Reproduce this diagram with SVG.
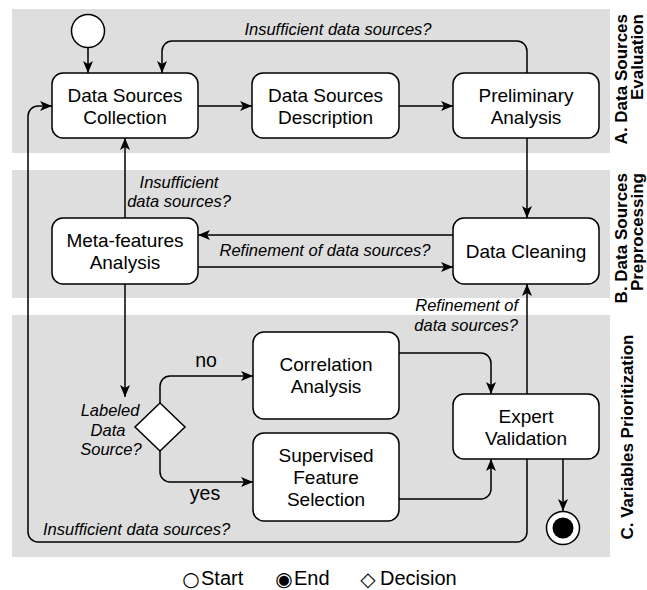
<svg xmlns="http://www.w3.org/2000/svg" width="647" height="590" viewBox="0 0 647 590">
  <style>
    .lane { fill: #dedede; stroke: none; }
    .lane-label { font-family: "Liberation Sans", Arial, sans-serif; font-size: 17px; font-weight: bold; fill: #000; }
    .box { fill: #fff; stroke: #000; stroke-width: 1.5; }
    .node-text { font-family: "Liberation Sans", Arial, sans-serif; font-size: 19px; fill: #000; text-anchor: middle; }
    .edge { fill: none; stroke: #000; stroke-width: 1.5; marker-end: url(#arrow); }
    .edge-label { font-family: "Liberation Sans", Arial, sans-serif; font-size: 16.5px; font-style: italic; fill: #000; }
    .branch-label { font-family: "Liberation Sans", Arial, sans-serif; font-size: 19.5px; fill: #000; text-anchor: middle; }
    .legend { font-family: "Liberation Sans", Arial, sans-serif; font-size: 20px; fill: #000; }
    .sym { font-family: "DejaVu Sans", sans-serif; font-size: 20px; fill: #000; text-anchor: middle; }
  </style>
  <defs>
    <marker id="arrow" markerUnits="userSpaceOnUse" viewBox="0 0 12 10" refX="12" refY="5" markerWidth="12" markerHeight="10" orient="auto">
      <path d="M0,0 L12,5 L0,10 L3,5 Z" fill="#000"/>
    </marker>
  </defs>

  <!-- swimlanes -->
  <g id="lanes">
    <rect class="lane" x="12" y="9" width="598" height="144"/>
    <rect class="lane" x="12" y="170" width="598" height="128"/>
    <rect class="lane" x="12" y="315" width="598" height="242"/>
    <text class="lane-label" text-anchor="end" transform="translate(627,14) rotate(-90)">A. Data Sources</text>
    <text class="lane-label" text-anchor="end" transform="translate(643,14) rotate(-90)">Evaluation</text>
    <text class="lane-label" text-anchor="end" transform="translate(627,173) rotate(-90)">B. Data Sources</text>
    <text class="lane-label" text-anchor="end" transform="translate(643,173) rotate(-90)">Preprocessing</text>
    <text class="lane-label" text-anchor="middle" transform="translate(633,437) rotate(-90)">C. Variables Prioritization</text>
  </g>

  <!-- connectors -->
  <g id="connectors">
    <path class="edge" d="M88,48 V73"/>
    <path class="edge" d="M527,73 V51 A10,10 0 0 0 517,41 H172 A10,10 0 0 0 162,51 V73"/>
    <path class="edge" d="M198,106 H252"/>
    <path class="edge" d="M399,106 H453"/>
    <path class="edge" d="M527,138 V218"/>
    <path class="edge" d="M125,218 V138"/>
    <path class="edge" d="M453,235 H198"/>
    <path class="edge" d="M198,267 H453"/>
    <path class="edge" d="M125,284 V397"/>
    <path class="edge" d="M160,403 V386 A10,10 0 0 1 170,376 H253"/>
    <path class="edge" d="M160,451 V472 A10,10 0 0 0 170,482 H253"/>
    <path class="edge" d="M399,353 H481 A10,10 0 0 1 491,363 V394"/>
    <path class="edge" d="M399,499 H481 A10,10 0 0 0 491,489 V459"/>
    <path class="edge" d="M527,394 V284"/>
    <path class="edge" d="M563,459 V511"/>
    <path class="edge" d="M527,459 V532 A10,10 0 0 1 517,542 H38 A10,10 0 0 1 28,532 V116 A10,10 0 0 1 38,106 H52"/>

    <text class="edge-label" x="338" y="35" text-anchor="middle">Insufficient data sources?</text>
    <text class="edge-label" x="179" y="188" text-anchor="middle">Insufficient</text>
    <text class="edge-label" x="179" y="207" text-anchor="middle">data sources?</text>
    <text class="edge-label" x="325" y="256" text-anchor="middle">Refinement of data sources?</text>
    <text class="edge-label" x="518" y="311" text-anchor="end">Refinement of</text>
    <text class="edge-label" x="518" y="331" text-anchor="end">data sources?</text>
    <text class="edge-label" x="43" y="535">Insufficient data sources?</text>
    <text class="branch-label" x="206" y="367">no</text>
    <text class="branch-label" x="205" y="500">yes</text>
  </g>

  <!-- nodes -->
  <g id="start">
    <circle cx="88" cy="31" r="16.5" fill="#fff" stroke="#000" stroke-width="1.5"/>
  </g>
  <g id="data-sources-collection">
    <rect class="box" x="52" y="73" width="146" height="65" rx="11"/>
    <text class="node-text" x="125" y="102">Data Sources</text>
    <text class="node-text" x="125" y="124">Collection</text>
  </g>
  <g id="data-sources-description">
    <rect class="box" x="252" y="73" width="147" height="65" rx="11"/>
    <text class="node-text" x="325.5" y="102">Data Sources</text>
    <text class="node-text" x="325.5" y="124">Description</text>
  </g>
  <g id="preliminary-analysis">
    <rect class="box" x="453" y="73" width="146" height="65" rx="11"/>
    <text class="node-text" x="526" y="102">Preliminary</text>
    <text class="node-text" x="526" y="124">Analysis</text>
  </g>
  <g id="meta-features-analysis">
    <rect class="box" x="52" y="218" width="146" height="66" rx="11"/>
    <text class="node-text" x="125" y="247">Meta-features</text>
    <text class="node-text" x="125" y="269">Analysis</text>
  </g>
  <g id="data-cleaning">
    <rect class="box" x="453" y="218" width="146" height="66" rx="11"/>
    <text class="node-text" x="526" y="258">Data Cleaning</text>
  </g>
  <g id="labeled-decision">
    <path d="M160,403 L185,427 L160,451 L135,427 Z" fill="#fff" stroke="#000" stroke-width="1.5"/>
    <text class="edge-label" x="110" y="416" text-anchor="middle">Labeled</text>
    <text class="edge-label" x="108" y="436" text-anchor="middle">Data</text>
    <text class="edge-label" x="111" y="455" text-anchor="middle">Source?</text>
  </g>
  <g id="correlation-analysis">
    <rect class="box" x="253" y="332" width="146" height="87" rx="11"/>
    <text class="node-text" x="326" y="371">Correlation</text>
    <text class="node-text" x="326" y="393">Analysis</text>
  </g>
  <g id="supervised-feature-selection">
    <rect class="box" x="253" y="433" width="146" height="88" rx="11"/>
    <text class="node-text" x="326" y="462">Supervised</text>
    <text class="node-text" x="326" y="484">Feature</text>
    <text class="node-text" x="326" y="506">Selection</text>
  </g>
  <g id="expert-validation">
    <rect class="box" x="453" y="394" width="146" height="65" rx="11"/>
    <text class="node-text" x="526" y="423">Expert</text>
    <text class="node-text" x="526" y="445">Validation</text>
  </g>
  <g id="end">
    <circle cx="563" cy="528" r="16.5" fill="#fff" stroke="#000" stroke-width="1.5"/>
    <circle cx="563" cy="528" r="10.5" fill="#000"/>
  </g>

  <!-- legend -->
  <g id="legend">
    <text class="sym" x="191" y="586">○</text>
    <text class="legend" x="201" y="585">Start</text>
    <text class="sym" x="284" y="586">◉</text>
    <text class="legend" x="294" y="585">End</text>
    <text class="sym" x="368" y="586">◇</text>
    <text class="legend" x="380" y="585">Decision</text>
  </g>
</svg>
